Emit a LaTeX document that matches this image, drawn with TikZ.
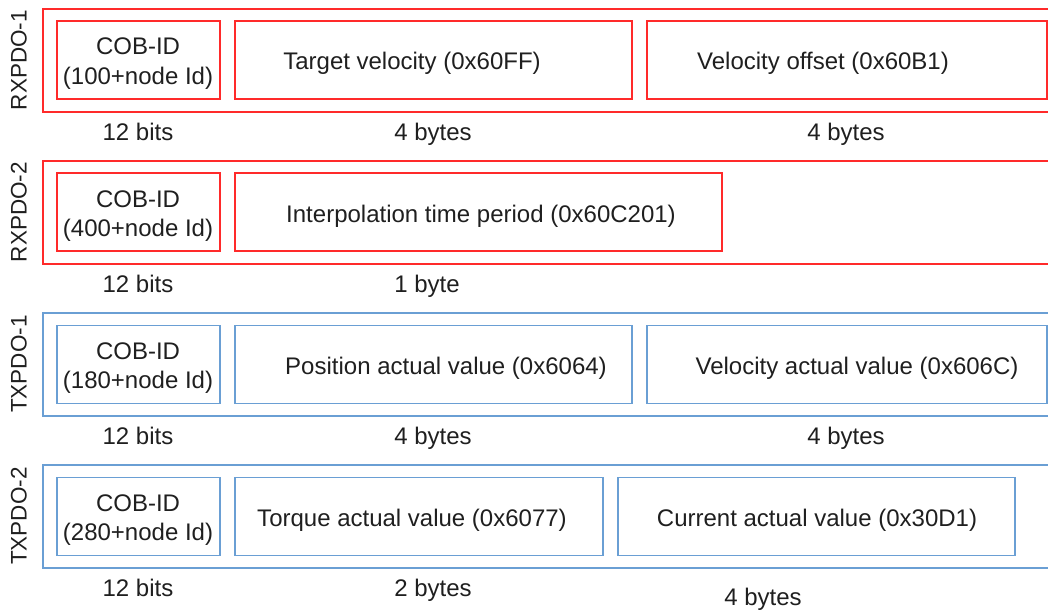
\documentclass[tikz,border=0pt]{standalone}
\usepackage{fontspec}
\setmainfont{Liberation Sans}
\definecolor{rxred}{HTML}{FF2A2A}
\definecolor{txblue}{HTML}{6A9FD4}
\begin{document}
\begin{tikzpicture}[x=1pt,y=-1pt,
  every node/.style={font=\fontsize{24}{29}\selectfont, text=black!88},
  frame/.style={draw, line width=1.8pt, rectangle, inner sep=0pt, outer sep=0pt},
  cell/.style={frame},
  rx/.style={rxred},
  tx/.style={txblue},
  txt/.style={anchor=base, inner sep=0pt},
  size/.style={anchor=base, inner sep=0pt},
  rowlabel/.style={rotate=90, anchor=center, font=\fontsize{22.5}{27}\selectfont}]
\useasboundingbox (0,0) rectangle (1048,610);

% ---------- RXPDO-1 ----------
\draw[rx, line width=1.8pt] (1060,9) -- (43,9) -- (43,112) -- (1060,112);
\node[rowlabel] (l1) at (19,60) {RXPDO-1};
\node[cell, rx, minimum width=163pt, minimum height=78pt] (c1) at (138.5,60) {};
\node[txt] at (138,55) {COB-ID};
\node[txt] at (138,84) {(100+node Id)};
\node[cell, rx, minimum width=397pt, minimum height=78pt] (a1) at (433.5,60) {};
\node[txt] at (412,70) {Target velocity (0x60FF)};
\node[cell, rx, minimum width=400pt, minimum height=78pt] (b1) at (847,60) {};
\node[txt] at (823,70) {Velocity offset (0x60B1)};
\node[size] (s1a) at (138,140) {12 bits};
\node[size] (s1b) at (433,140) {4 bytes};
\node[size] (s1c) at (846,140) {4 bytes};

% ---------- RXPDO-2 ----------
\draw[rx, line width=1.8pt] (1060,161) -- (43,161) -- (43,264) -- (1060,264);
\node[rowlabel] (l2) at (19,212) {RXPDO-2};
\node[cell, rx, minimum width=163pt, minimum height=78pt] (c2) at (138.5,212) {};
\node[txt] at (138,207) {COB-ID};
\node[txt] at (138,236) {(400+node Id)};
\node[cell, rx, minimum width=487pt, minimum height=78pt] (a2) at (478.5,212) {};
\node[txt] at (481,222) {Interpolation time period (0x60C201)};
\node[size] (s2a) at (138,292) {12 bits};
\node[size] (s2b) at (427,292) {1 byte};

% ---------- TXPDO-1 ----------
\draw[tx, line width=1.8pt] (1060,313) -- (43,313) -- (43,416) -- (1060,416);
\node[rowlabel] (l3) at (19,364) {TXPDO-1};
\node[cell, tx, minimum width=163pt, minimum height=78pt] (c3) at (138.5,364.5) {};
\node[txt] at (138,359) {COB-ID};
\node[txt] at (138,388) {(180+node Id)};
\node[cell, tx, minimum width=397pt, minimum height=78pt] (a3) at (433.5,364.5) {};
\node[txt] at (446,374) {Position actual value (0x6064)};
\node[cell, tx, minimum width=400pt, minimum height=78pt] (b3) at (847,364.5) {};
\node[txt] at (857,374) {Velocity actual value (0x606C)};
\node[size] (s3a) at (138,444) {12 bits};
\node[size] (s3b) at (433,444) {4 bytes};
\node[size] (s3c) at (846,444) {4 bytes};

% ---------- TXPDO-2 ----------
\draw[tx, line width=1.8pt] (1060,465) -- (43,465) -- (43,568) -- (1060,568);
\node[rowlabel] (l4) at (19,516) {TXPDO-2};
\node[cell, tx, minimum width=163pt, minimum height=78pt] (c4) at (138.5,516.5) {};
\node[txt] at (138,511) {COB-ID};
\node[txt] at (138,540) {(280+node Id)};
\node[cell, tx, minimum width=368pt, minimum height=78pt] (a4) at (419,516.5) {};
\node[txt] at (412,526) {Torque actual value (0x6077)};
\node[cell, tx, minimum width=397pt, minimum height=78pt] (b4) at (816.5,516.5) {};
\node[txt] at (817,526) {Current actual value (0x30D1)};
\node[size] (s4a) at (138,596) {12 bits};
\node[size] (s4b) at (433,596) {2 bytes};
\node[size] (s4c) at (763,605) {4 bytes};
\end{tikzpicture}
\end{document}
